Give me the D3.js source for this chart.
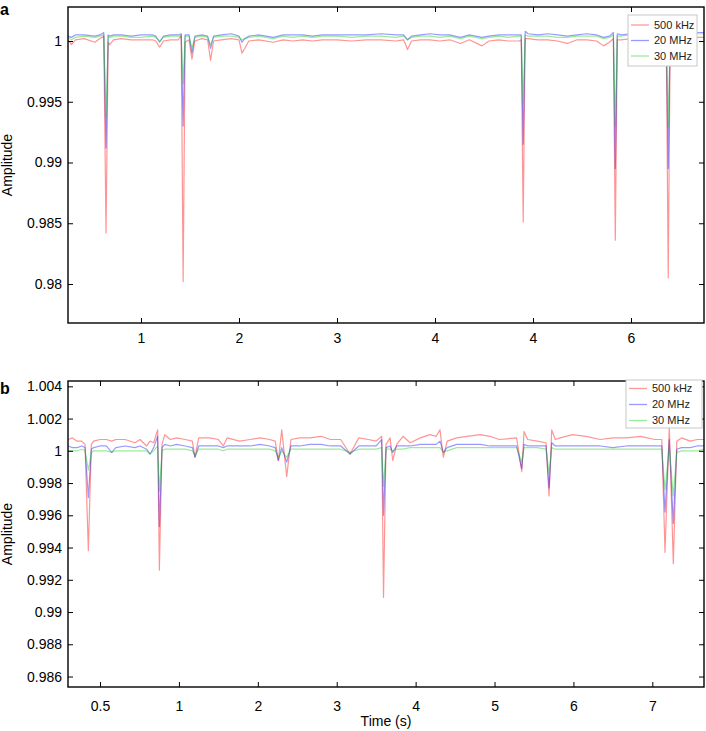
<!DOCTYPE html>
<html>
<head>
<meta charset="utf-8">
<title>Amplitude traces</title>
<script src="https://d3js.org/d3.v7.min.js"></script>
<style>
  body { margin: 0; background: #fff; }
  svg { display: block; font-family: "Liberation Sans", Arial, Helvetica, sans-serif; }
  .tick line { stroke: #000; stroke-width: 1; }
  .tick text { fill: #000; font-size: 14px; }
  .frame { fill: none; stroke: #000; stroke-width: 1.4; }
  .trace { fill: none; stroke-width: 1.2; stroke-linejoin: round; }
  .legend rect { fill: #fff; stroke: #c8c8c8; stroke-width: 1; }
  .legend text { font-size: 11px; fill: #222; }
</style>
</head>
<body>
<svg id="chart" width="706" height="731"></svg>
<script>
// series shared by both panels
const seriesNames = ["500 kHz", "20 MHz", "30 MHz"];
const seriesColours = ["#ff0000", "#0000ff", "#00d000"];

// panel a
const timeA = [
  0.255, 0.29, 0.33, 0.42, 0.53, 0.58, 0.62, 0.643, 0.665, 0.68,
  0.72, 0.80, 0.90, 1.00, 1.12, 1.15, 1.19, 1.23, 1.30, 1.38,
  1.41, 1.43, 1.45, 1.49, 1.52, 1.55, 1.62, 1.68, 1.71, 1.74,
  1.82, 1.92, 2.00, 2.03, 2.06, 2.10, 2.20, 2.35, 2.45, 2.55,
  2.65, 2.75, 2.85, 3.00, 3.15, 3.30, 3.45, 3.60, 3.68, 3.72,
  3.76, 3.85, 3.95, 4.05, 4.15, 4.26, 4.35, 4.48, 4.55, 4.65,
  4.75, 4.86, 4.88, 4.90, 4.92, 4.95, 5.05, 5.15, 5.25, 5.35,
  5.45, 5.55, 5.65, 5.72, 5.78, 5.82, 5.84, 5.86, 5.90, 6.00,
  6.10, 6.20, 6.30, 6.36, 6.38, 6.40, 6.45, 6.55, 6.65, 6.745
];
const khz500A = [
  1.0001, 0.9997, 1.0001, 1.0002, 0.9999, 1.0002, 1.0004, 0.9842, 0.9999, 0.9997,
  1.0001, 1.0002, 1.0001, 1.0001, 1.0001, 1.0000, 0.9995, 1.0000, 1.0001, 1.0001,
  1.0005, 0.9802, 0.9999, 1.0001, 0.9985, 1.0000, 1.0002, 1.0001, 0.9984, 1.0000,
  1.0001, 1.0002, 1.0001, 0.9990, 0.9994, 1.0000, 1.0001, 0.9999, 1.0001, 1.0000,
  1.0001, 1.0000, 1.0001, 1.0001, 1.0000, 1.0001, 1.0001, 1.0000, 1.0001, 0.9993,
  1.0000, 1.0001, 1.0001, 1.0000, 1.0001, 0.9998, 1.0001, 0.9996, 1.0000, 1.0001,
  1.0000, 1.0000, 1.0001, 0.9851, 1.0002, 1.0002, 1.0001, 1.0001, 1.0000, 0.9998,
  1.0001, 1.0001, 1.0000, 0.9996, 0.9999, 1.0002, 0.9836, 1.0001, 1.0001, 1.0002,
  1.0001, 1.0001, 1.0002, 1.0002, 0.9805, 1.0003, 1.0002, 1.0003, 1.0003, 1.0003
];
const mhz20A = [
  1.0004, 1.0003, 1.0005, 1.0005, 1.0004, 1.0005, 1.0007, 0.9912, 1.0005, 1.0004,
  1.0005, 1.0005, 1.0004, 1.0005, 1.0005, 1.0004, 0.9999, 1.0004, 1.0005, 1.0005,
  1.0006, 0.9930, 1.0005, 1.0005, 0.9990, 1.0004, 1.0005, 1.0004, 0.9994, 1.0004,
  1.0005, 1.0006, 1.0004, 0.9999, 1.0002, 1.0004, 1.0005, 1.0003, 1.0005, 1.0005,
  1.0005, 1.0004, 1.0005, 1.0005, 1.0005, 1.0005, 1.0006, 1.0005, 1.0005, 1.0001,
  1.0004, 1.0005, 1.0006, 1.0005, 1.0005, 1.0003, 1.0005, 1.0003, 1.0004, 1.0005,
  1.0005, 1.0005, 1.0005, 0.9915, 1.0008, 1.0006, 1.0005, 1.0006, 1.0005, 1.0004,
  1.0005, 1.0006, 1.0005, 1.0003, 1.0004, 1.0007, 0.9895, 1.0006, 1.0005, 1.0006,
  1.0006, 1.0005, 1.0006, 1.0006, 0.9895, 1.0007, 1.0006, 1.0007, 1.0007, 1.0007
];
const mhz30A = [
  1.0003, 1.0001, 1.0003, 1.0004, 1.0003, 1.0004, 1.0005, 0.9938, 1.0004, 1.0003,
  1.0004, 1.0004, 1.0003, 1.0003, 1.0004, 1.0003, 1.0000, 1.0003, 1.0004, 1.0004,
  1.0004, 0.9965, 1.0004, 1.0004, 0.9994, 1.0003, 1.0004, 1.0003, 0.9997, 1.0003,
  1.0004, 1.0004, 1.0003, 1.0001, 1.0002, 1.0003, 1.0004, 1.0002, 1.0004, 1.0003,
  1.0004, 1.0003, 1.0004, 1.0004, 1.0003, 1.0004, 1.0004, 1.0003, 1.0004, 1.0001,
  1.0003, 1.0004, 1.0004, 1.0003, 1.0004, 1.0002, 1.0004, 1.0002, 1.0003, 1.0004,
  1.0003, 1.0004, 1.0004, 0.9948, 1.0005, 1.0004, 1.0004, 1.0004, 1.0003, 1.0003,
  1.0004, 1.0004, 1.0004, 1.0002, 1.0003, 1.0005, 0.9930, 1.0004, 1.0004, 1.0005,
  1.0004, 1.0004, 1.0005, 1.0005, 0.9930, 1.0005, 1.0005, 1.0005, 1.0006, 1.0006
];
const timeTicksA = [1, 2, 3, 4, 5, 6];
const timeLabelsA = ["1", "2", "3", "4", "4", "6"];
const ampTicksA = [0.98, 0.985, 0.99, 0.995, 1];

// panel b
const timeB = [
  -0.406, -0.35, -0.29, -0.232, -0.19, -0.148, -0.11, -0.08, 0.0, 0.08,
  0.148, 0.2, 0.317, 0.444, 0.507, 0.59, 0.634, 0.68, 0.73, 0.752,
  0.786, 0.82, 0.89, 0.97, 1.08, 1.17, 1.204, 1.25, 1.39, 1.50,
  1.563, 1.61, 1.77, 1.90, 2.03, 2.15, 2.22, 2.26, 2.303, 2.366,
  2.42, 2.53, 2.66, 2.80, 2.92, 3.05, 3.169, 3.28, 3.40, 3.50,
  3.57, 3.593, 3.625, 3.676, 3.71, 3.76, 3.84, 3.93, 4.06, 4.18,
  4.26, 4.309, 4.351, 4.40, 4.52, 4.65, 4.82, 4.94, 5.06, 5.28,
  5.345, 5.374, 5.42, 5.54, 5.653, 5.691, 5.725, 5.77, 5.83, 5.99,
  6.16, 6.34, 6.50, 6.67, 6.85, 7.03, 7.12, 7.161, 7.215, 7.266,
  7.31, 7.37, 7.48, 7.57, 7.655
];
const khz500B = [
  1.0007, 1.0008, 1.0006, 1.0006, 1.0004, 0.9938, 1.0004, 1.0006, 1.0007, 1.0007,
  1.0006, 1.0007, 1.0007, 1.0005, 1.0007, 1.0003, 1.0006, 1.0005, 1.0013, 0.9926,
  1.0004, 1.0010, 1.0007, 1.0008, 1.0007, 1.0006, 0.9996, 1.0008, 1.0008, 1.0007,
  1.0003, 1.0008, 1.0006, 1.0007, 1.0008, 1.0007, 1.0006, 0.9994, 1.0013, 0.9984,
  1.0007, 1.0008, 1.0008, 1.0009, 1.0007, 1.0007, 0.9998, 1.0008, 1.0007, 1.0006,
  1.0009, 0.9909, 1.0004, 1.0008, 0.9994, 1.0004, 1.0009, 1.0005, 1.0008, 1.0010,
  1.0009, 1.0013, 0.9996, 1.0006, 1.0008, 1.0009, 1.0010, 1.0009, 1.0007, 1.0008,
  0.9987, 1.0012, 1.0007, 1.0006, 1.0005, 0.9972, 1.0013, 1.0007, 1.0008, 1.0010,
  1.0009, 1.0007, 1.0008, 1.0008, 1.0009, 1.0007, 1.0007, 0.9937, 1.0015, 0.9930,
  1.0006, 1.0008, 1.0006, 1.0007, 1.0007
];
const mhz20B = [
  1.0003, 1.0002, 1.0002, 1.0003, 1.0002, 0.9971, 1.0001, 1.0002, 1.0003, 1.0003,
  0.9999, 1.0002, 1.0003, 1.0002, 1.0003, 1.0001, 0.9998, 1.0002, 1.0009, 0.9953,
  1.0002, 1.0004, 1.0003, 1.0004, 1.0003, 1.0002, 0.9996, 1.0003, 1.0003, 1.0003,
  1.0002, 1.0003, 1.0003, 1.0003, 1.0004, 1.0003, 1.0002, 0.9994, 1.0002, 0.9993,
  1.0003, 1.0003, 1.0004, 1.0004, 1.0003, 1.0003, 0.9998, 1.0003, 1.0003, 1.0003,
  1.0007, 0.9960, 1.0002, 1.0003, 0.9999, 1.0003, 1.0003, 1.0003, 1.0004, 1.0004,
  1.0004, 1.0006, 0.9999, 1.0002, 1.0004, 1.0004, 1.0004, 1.0003, 1.0003, 1.0003,
  0.9989, 1.0004, 1.0003, 1.0003, 1.0003, 0.9977, 1.0005, 1.0003, 1.0003, 1.0003,
  1.0003, 1.0003, 1.0002, 1.0003, 1.0003, 1.0003, 1.0003, 0.9962, 1.0007, 0.9955,
  1.0001, 1.0002, 1.0002, 1.0003, 1.0003
];
const mhz30B = [
  1.0000, 1.0000, 1.0000, 1.0001, 1.0000, 0.9988, 0.9999, 1.0000, 1.0000, 1.0000,
  0.9999, 1.0000, 1.0000, 1.0000, 1.0000, 1.0000, 0.9998, 1.0000, 1.0003, 0.9975,
  1.0000, 1.0001, 1.0001, 1.0001, 1.0001, 1.0000, 0.9997, 1.0001, 1.0001, 1.0001,
  1.0000, 1.0001, 1.0001, 1.0001, 1.0001, 1.0001, 1.0000, 0.9996, 1.0000, 0.9996,
  1.0001, 1.0001, 1.0001, 1.0001, 1.0001, 1.0001, 0.9999, 1.0001, 1.0001, 1.0001,
  1.0002, 0.9978, 1.0001, 1.0001, 1.0000, 1.0001, 1.0001, 1.0002, 1.0002, 1.0002,
  1.0002, 1.0002, 0.9999, 1.0000, 1.0002, 1.0002, 1.0002, 1.0002, 1.0002, 1.0002,
  0.9993, 1.0002, 1.0002, 1.0002, 1.0001, 0.9986, 1.0002, 1.0001, 1.0001, 1.0001,
  1.0001, 1.0001, 1.0001, 1.0001, 1.0001, 1.0001, 1.0001, 0.9976, 1.0002, 0.9972,
  0.9999, 1.0000, 1.0000, 1.0000, 1.0001
];
const timeTicksB = [0, 1, 2, 3, 4, 5, 6, 7];
const timeLabelsB = ["0.5", "1", "2", "3", "4", "5", "6", "7"];
const ampTicksB = [0.986, 0.988, 0.99, 0.992, 0.994, 0.996, 0.998, 1, 1.002, 1.004];

const chart = d3.select("#chart");
const ampFormat = d3.format("~g");

function drawPanel(p) {
  const x = d3.scaleLinear().domain(p.xDomain).range([p.left, p.right]);
  const y = d3.scaleLinear().domain(p.yDomain).range([p.bottom, p.top]);
  const g = chart.append("g");

  g.append("clipPath").attr("id", p.id + "Clip")
    .append("rect")
      .attr("x", p.left).attr("y", p.top)
      .attr("width", p.right - p.left).attr("height", p.bottom - p.top);

  // traces: red first, green on top
  const line = d3.line()
    .x(d => x(d[0]))
    .y(d => y(d[1]));
  p.series.forEach((s, i) => {
    g.append("path")
      .datum(p.time.map((t, j) => [t, s[j]]))
      .attr("class", "trace")
      .attr("clip-path", "url(#" + p.id + "Clip)")
      .attr("stroke", seriesColours[i])
      .attr("stroke-opacity", i == 0 ? 0.42 : 0.4)
      .attr("d", line);
  });

  // axes, ticks pointing inwards on all four sides
  g.append("g")
    .attr("transform", "translate(0," + p.bottom + ")")
    .call(d3.axisBottom(x).tickValues(p.xTicks)
      .tickFormat((d, i) => p.xLabels[i])
      .tickSizeInner(-5).tickSizeOuter(0).tickPadding(p.xPad));
  g.append("g")
    .attr("transform", "translate(0," + p.top + ")")
    .call(d3.axisTop(x).tickValues(p.xTicks).tickFormat("")
      .tickSizeInner(-5).tickSizeOuter(0));
  g.append("g")
    .attr("transform", "translate(" + p.left + ",0)")
    .call(d3.axisLeft(y).tickValues(p.yTicks).tickFormat(ampFormat)
      .tickSizeInner(-5).tickSizeOuter(0).tickPadding(6));
  g.append("g")
    .attr("transform", "translate(" + p.right + ",0)")
    .call(d3.axisRight(y).tickValues(p.yTicks).tickFormat("")
      .tickSizeInner(-5).tickSizeOuter(0));
  g.selectAll(".domain").remove();

  g.append("rect")
    .attr("class", "frame")
    .attr("x", p.left).attr("y", p.top)
    .attr("width", p.right - p.left).attr("height", p.bottom - p.top);

  // y title
  g.append("text")
    .attr("transform", "translate(12," + ((p.top + p.bottom) / 2) + ") rotate(-90)")
    .attr("text-anchor", "middle")
    .style("font-size", "14px")
    .text("Amplitude");

  // panel letter
  g.append("text")
    .attr("x", 0).attr("y", p.letterY)
    .style("font-size", "16px").style("font-weight", "bold")
    .text(p.letter);

  // legend
  const lg = g.append("g").attr("class", "legend");
  lg.append("rect")
    .attr("x", p.legend.x).attr("y", p.legend.y)
    .attr("width", p.legend.w).attr("height", p.legend.h);
  seriesNames.forEach((name, i) => {
    const yy = p.legend.y + p.legend.first + i * p.legend.step;
    lg.append("line")
      .attr("x1", p.legend.x + 3).attr("x2", p.legend.x + 21)
      .attr("y1", yy).attr("y2", yy)
      .attr("stroke", seriesColours[i])
      .attr("stroke-opacity", 0.4)
      .attr("stroke-width", 1.3);
    lg.append("text")
      .attr("x", p.legend.x + 26).attr("y", yy)
      .attr("dy", "0.35em")
      .text(name);
  });
}

drawPanel({
  id: "a", letter: "a", letterY: 15,
  left: 68, right: 704, top: 7, bottom: 323,
  xDomain: [0.255, 6.745], yDomain: [0.97679, 1.0028],
  xTicks: timeTicksA, xLabels: timeLabelsA, yTicks: ampTicksA, xPad: 10,
  time: timeA, series: [khz500A, mhz20A, mhz30A],
  legend: { x: 628, y: 15, w: 69, h: 51, first: 10, step: 15.5 }
});

drawPanel({
  id: "b", letter: "b", letterY: 394,
  left: 68, right: 704, top: 381, bottom: 687,
  xDomain: [-0.406, 7.655], yDomain: [0.98535, 1.00433],
  xTicks: timeTicksB, xLabels: timeLabelsB, yTicks: ampTicksB, xPad: 14,
  time: timeB, series: [khz500B, mhz20B, mhz30B],
  legend: { x: 626, y: 380, w: 76, h: 48, first: 8.5, step: 16 }
});

chart.append("text")
  .attr("x", 386).attr("y", 726)
  .attr("text-anchor", "middle")
  .style("font-size", "14px")
  .text("Time (s)");
</script>
</body>
</html>
